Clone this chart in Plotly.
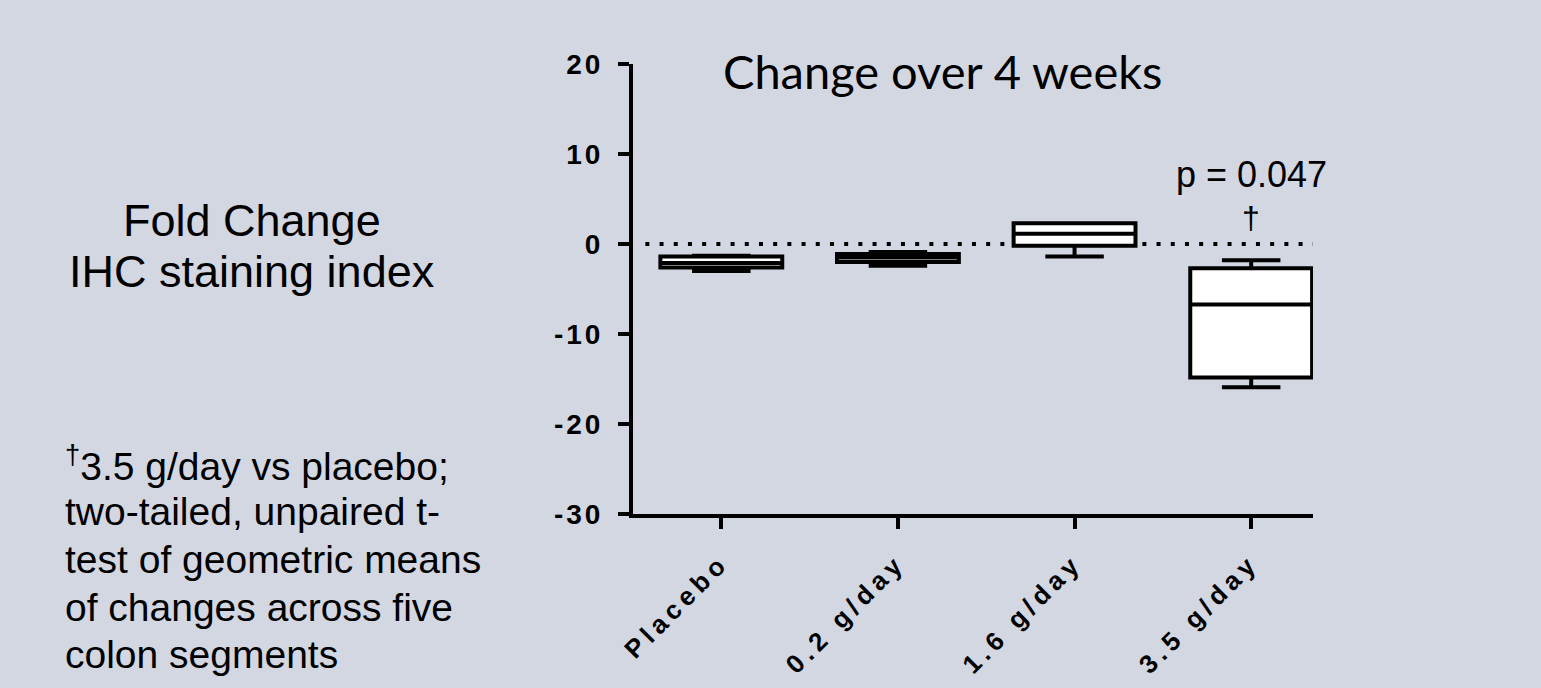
import plotly.graph_objects as go

categories = ["Placebo", "0.2 g/day", "1.6 g/day", "3.5 g/day"]
lower_fence = [-3.0, -2.4, -1.4, -15.9]
q1 = [-2.6, -2.0, -0.2, -14.8]
median = [-2.1, -1.5, 1.15, -6.7]
q3 = [-1.4, -1.1, 2.3, -2.7]
upper_fence = [-1.3, -0.9, 2.3, -1.8]
y_ticks = [20, 10, 0, -10, -20, -30]

W, H = 1541, 688
BG = "#D3D7E2"
ARIAL = "Arial, Liberation Sans, sans-serif"

fig = go.Figure()
fig.add_trace(go.Box(
    x=categories, q1=q1, median=median, q3=q3,
    lowerfence=lower_fence, upperfence=upper_fence,
    width=0.69, whiskerwidth=0.48,
    fillcolor="white", line=dict(color="black", width=4),
    boxpoints=False, showlegend=False, hoverinfo="skip",
))

fig.add_shape(type="line", xref="x", yref="y", x0=-0.43, x1=3.5, y0=0, y1=0,
              line=dict(color="black", width=4, dash="4px,10.2px"), layer="below")


def px_x(p):
    return p / W


def px_y(p):
    return 1 - p / H


fig.update_layout(
    width=W, height=H,
    margin=dict(l=0, r=0, t=0, b=0),
    paper_bgcolor=BG, plot_bgcolor=BG,
    xaxis=dict(domain=[px_x(633), px_x(1313)], range=[-0.5, 3.35],
               showline=True, linecolor="black", linewidth=4,
               ticks="outside", ticklen=11, tickwidth=4, tickcolor="black",
               tickangle=-45, showgrid=False, zeroline=False, ticklabelstandoff=8,
               tickfont=dict(family=ARIAL, size=26, color="black", weight="bold")),
    yaxis=dict(domain=[px_y(523), px_y(51)], range=[-30, 20],
               tickvals=y_ticks, ticktext=[str(v) for v in y_ticks],
               showline=True, linecolor="black", linewidth=4,
               ticks="outside", ticklen=11, tickwidth=4, tickcolor="black",
               showgrid=False, zeroline=False, ticklabelstandoff=9,
               tickfont=dict(family=ARIAL, size=28, color="black", weight="bold")),
)

ann = []
ann.append(dict(text="Change over 4 weeks", x=px_x(942), y=px_y(59), xref="paper", yref="paper",
                showarrow=False, xanchor="center", yanchor="middle",
                font=dict(family="Lato, Open Sans", size=47, color="black")))
ann.append(dict(text="p = 0.047", x=3, y=px_y(167), xref="x", yref="paper", showarrow=False,
                xanchor="center", yanchor="middle",
                font=dict(family=ARIAL, size=36, color="black")))
ann.append(dict(text="†", x=3, y=px_y(213), xref="x", yref="paper", showarrow=False,
                xanchor="center", yanchor="middle",
                font=dict(family=ARIAL, size=32, color="black")))
for txt, yy in [("Fold Change", 215), ("IHC staining index", 269)]:
    ann.append(dict(text=txt, x=px_x(252), y=px_y(yy), xref="paper", yref="paper",
                    showarrow=False, xanchor="center", yanchor="middle",
                    font=dict(family=ARIAL, size=45, color="black")))
foot = ["<sup>†</sup>3.5 g/day vs placebo;", "two-tailed, unpaired t-",
        "test of geometric means", "of changes across five", "colon segments"]
for i, txt in enumerate(foot):
    ann.append(dict(text=txt, x=px_x(63), y=px_y(470 + 50 * i), xref="paper", yref="paper",
                    showarrow=False, xanchor="left", yanchor="middle",
                    font=dict(family=ARIAL, size=39, color="black")))
fig.update_layout(annotations=ann)

post = (
    "document.body.style.margin='0';document.body.style.overflow='hidden';"
    "document.querySelectorAll('.xtick text').forEach(function(t){t.setAttribute('letter-spacing','5px');});"
    "document.querySelectorAll('.ytick text').forEach(function(t){t.setAttribute('letter-spacing','3px');});"
)
fig.write_html("out.html", post_script=post, config={"displayModeBar": False})
